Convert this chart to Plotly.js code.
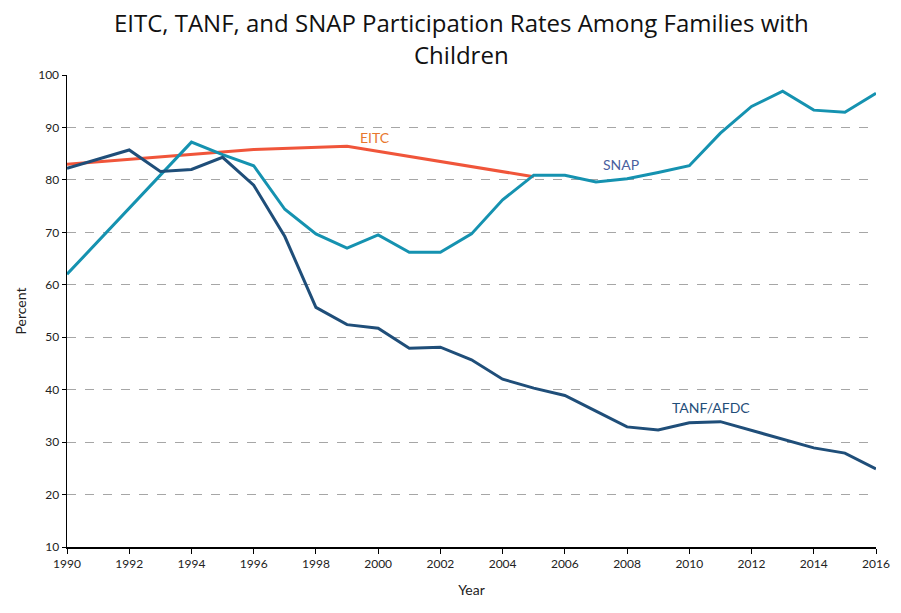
<!DOCTYPE html>
<html>
<head>
<meta charset="utf-8">
<script src="https://cdn.plot.ly/plotly-3.0.1.min.js"></script>
<style>html,body{margin:0;padding:0;background:#fff;}</style>
</head>
<body>
<div id="chart" style="width:901px;height:613px;"></div>
<script>
// Data
const tanfYears = [1990,1992,1993,1994,1995,1996,1997,1998,1999,2000,2001,2002,2003,2004,2005,2006,2007,2008,2009,2010,2011,2012,2013,2014,2015,2016];
const tanfValues = [82.2,85.7,81.6,82.0,84.3,79.0,69.2,55.7,52.4,51.7,47.9,48.1,45.7,42.0,40.3,38.9,35.9,32.9,32.3,33.7,33.9,32.2,30.5,28.9,27.9,24.9];

const snapYears = [1990,1994,1995,1996,1997,1998,1999,2000,2001,2002,2003,2004,2005,2006,2007,2008,2009,2010,2011,2012,2013,2014,2015,2016];
const snapValues = [62.0,87.2,84.8,82.7,74.4,69.7,67.0,69.5,66.2,66.2,69.7,76.2,80.9,80.9,79.6,80.2,81.4,82.7,88.9,94.0,96.9,93.3,92.9,96.5];

const eitcYears = [1990,1996,1999,2005];
const eitcValues = [83.0,85.8,86.4,80.6];

const xTicks = [1990,1992,1994,1996,1998,2000,2002,2004,2006,2008,2010,2012,2014,2016];
const yTicks = [10,20,30,40,50,60,70,80,90,100];

const seriesLabels = [
  {text:'EITC', x:1999.9, y:88.0, color:'#E8772E'},
  {text:'SNAP', x:2007.8, y:83.0, color:'#4A5F9E'},
  {text:'TANF/AFDC', x:2010.7, y:36.6, color:'#1F4E79'}
];

const fontFam = 'Lato, "Open Sans", sans-serif';

const traces = [
  {x:eitcYears, y:eitcValues, type:'scatter', mode:'lines', name:'EITC', line:{color:'#F0553A', width:3}},
  {x:snapYears, y:snapValues, type:'scatter', mode:'lines', name:'SNAP', line:{color:'#1592B0', width:3}},
  {x:tanfYears, y:tanfValues, type:'scatter', mode:'lines', name:'TANF/AFDC', line:{color:'#1F4E79', width:3}}
];

const layout = {
  width:901, height:613,
  margin:{l:67, r:25, t:75, b:66},
  paper_bgcolor:'#fff', plot_bgcolor:'#fff',
  showlegend:false,
  font:{family:fontFam, color:'#222'},
  title:{
    text:'EITC, TANF, and SNAP Participation Rates Among Families with<br>Children',
    font:{family:'"Open Sans", sans-serif', size:24, color:'#111'},
    xref:'container', x:0.512, xanchor:'center',
    yref:'container', y:0.947, yanchor:'middle'
  },
  xaxis:{
    range:[1990,2016], tickvals:xTicks, ticktext:xTicks.map(String),
    showgrid:false, zeroline:false,
    showline:true, linecolor:'#000', linewidth:1.5,
    ticks:'outside', ticklen:5, tickcolor:'#000', tickwidth:1,
    tickfont:{size:12, color:'#222'},
    title:{text:'Year', font:{size:14, color:'#222'}, standoff:15}
  },
  yaxis:{
    range:[10,100], tickvals:yTicks,
    showgrid:true, gridcolor:'#A6A6A6', griddash:'dash', gridwidth:1,
    zeroline:false,
    showline:true, linecolor:'#000', linewidth:1.5,
    ticks:'outside', ticklen:4, tickcolor:'#000',
    tickfont:{size:12, color:'#222'},
    title:{text:'Percent', font:{size:14, color:'#222'}, standoff:8}
  },
  annotations: seriesLabels.map(l => ({
    text:l.text, x:l.x, y:l.y, xref:'x', yref:'y', showarrow:false,
    xanchor:'center', yanchor:'middle',
    font:{family:fontFam, size:14, color:l.color}
  }))
};

Plotly.newPlot('chart', traces, layout, {displayModeBar:false, staticPlot:true});
</script>
</body>
</html>
